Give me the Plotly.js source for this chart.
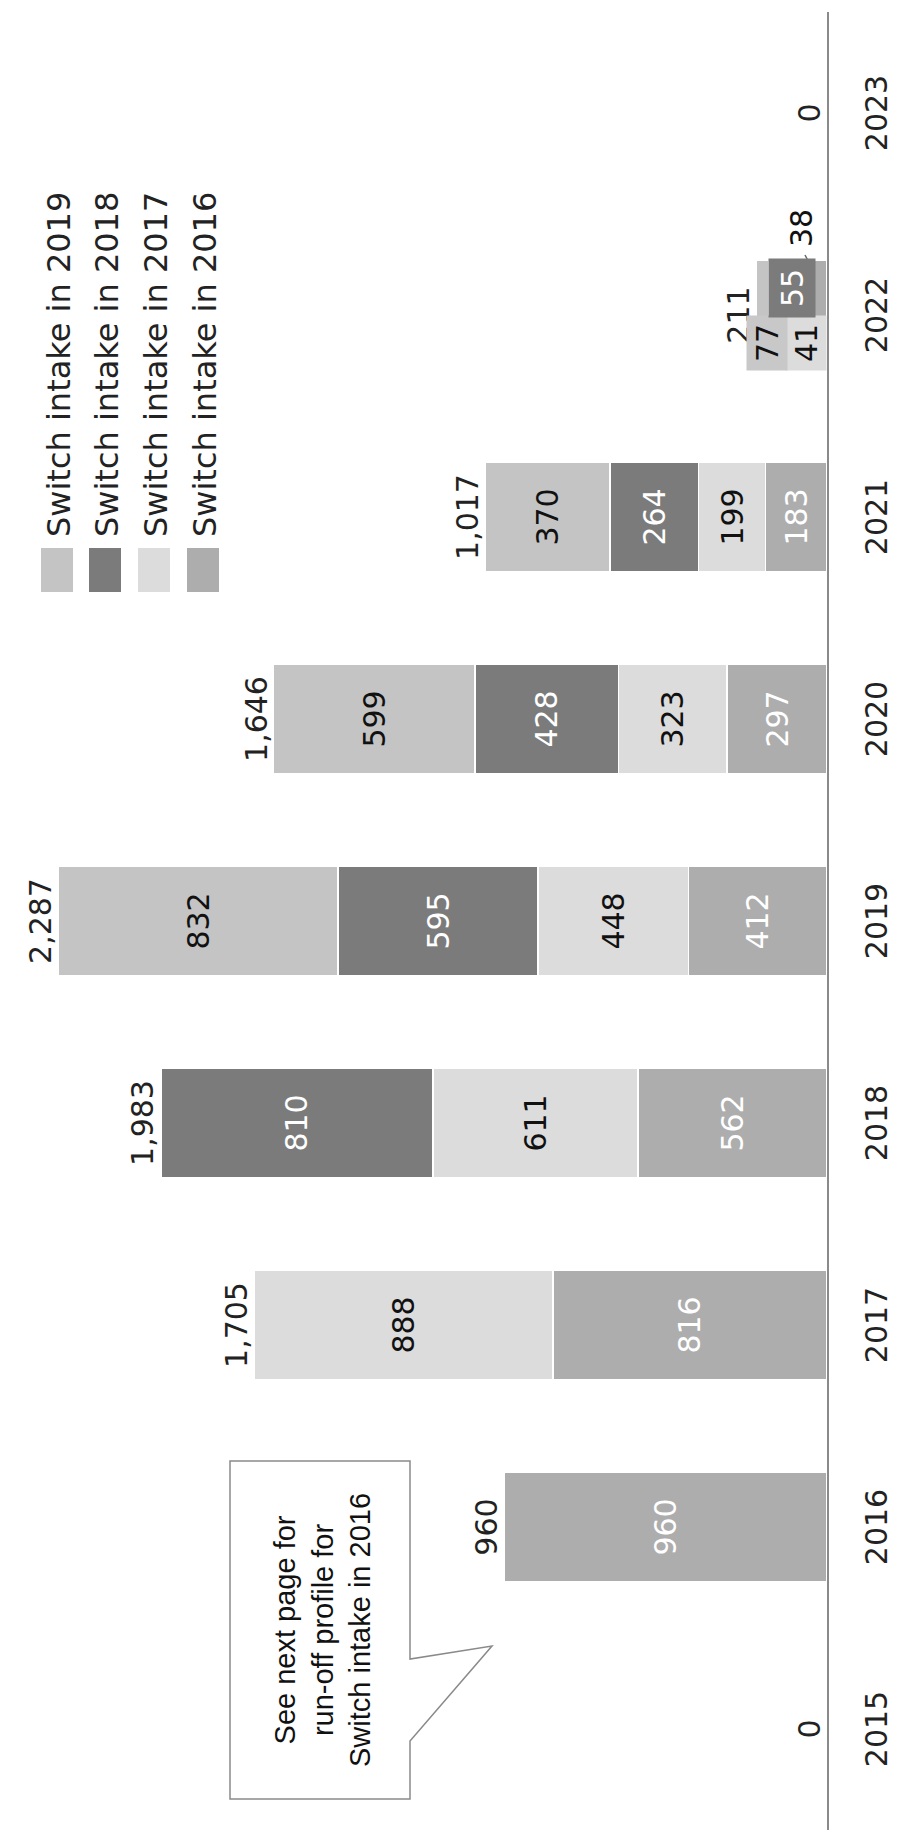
<!DOCTYPE html>
<html>
<head>
<meta charset="utf-8">
<script src="https://cdn.plot.ly/plotly-3.0.1.min.js"></script>
<style>
  html, body { margin: 0; padding: 0; background: #ffffff; overflow: hidden; }
  #wrap { width: 899px; height: 1843px; position: relative; overflow: hidden; }
  #chart { position: absolute; left: 0; top: 0; width: 1843px; height: 899px;
           transform-origin: 0 0; transform: translate(0px, 1843px) rotate(-90deg); }
</style>
</head>
<body>
<div id="wrap"><div id="chart"></div></div>
<script>
// ---- data ----
const years = ['2015', '2016', '2017', '2018', '2019', '2020', '2021', '2022', '2023'];
const intake2016 = [null, 960, 816, 562, 412, 297, 183, 41, null];
const intake2017 = [null, null, 888, 611, 448, 323, 199, 77, null];
const intake2018 = [null, null, null, 810, 595, 428, 264, 55, null];
const intake2019 = [null, null, null, null, 832, 599, 370, 38, null];
const totals = [0, 960, 1705, 1983, 2287, 1646, 1017, 211, 0];
const seriesNames = ['Switch intake in 2016', 'Switch intake in 2017', 'Switch intake in 2018', 'Switch intake in 2019'];
const calloutText = 'See next page for<br>run-off profile for<br>Switch intake in 2016';
const smallLabelYear = '2022'; // year whose labels are drawn as offset boxes

// ---- styles ----
const seriesValues = [intake2016, intake2017, intake2018, intake2019];
const colors = ['#adadad', '#dcdcdc', '#7b7b7b', '#c4c4c4'];
const labelColors = ['#ffffff', '#111111', '#ffffff', '#111111'];
const FONT = 'DejaVu Sans, Verdana, sans-serif';

// plot geometry (in the un-rotated frame)
const W = 1843, H = 899;
const M = { l: 13, r: 12, t: 10, b: 72 };
const plotW = W - M.l - M.r, plotH = H - M.t - M.b;
const yMax = 2432;
function px(u, v) { return { x: (u - M.l) / plotW, y: (H - M.b - v) / plotH }; }

const traces = seriesValues.map((vals, s) => ({
  type: 'bar',
  name: seriesNames[s],
  x: years,
  y: vals,
  text: vals.map((v, i) => (v == null || years[i] === smallLabelYear) ? '' : String(v)),
  textposition: 'inside',
  insidetextanchor: 'middle',
  constraintext: 'none',
  textangle: 0,
  textfont: { family: FONT, size: 30, color: labelColors[s] },
  marker: { color: colors[s], line: { color: '#ffffff', width: 1.5 } },
  hoverinfo: 'skip',
  showlegend: false
}));

traces.push({
  type: 'scatter',
  mode: 'text',
  x: years,
  y: totals,
  text: totals.map(t => t.toLocaleString('en-US')),
  textposition: 'top center',
  textfont: { family: FONT, size: 30, color: '#222222' },
  cliponaxis: false,
  hoverinfo: 'skip',
  showlegend: false
});

// ---- annotations & shapes ----
const annotations = [];
const shapes = [];

// legend (drawn manually: 2019 on top)
const legendRows = [57, 105, 154, 203];
[3, 2, 1, 0].forEach((s, k) => {
  const c = legendRows[k];
  const a = px(1251, c - 16), b = px(1295, c + 16);
  shapes.push({ type: 'rect', xref: 'paper', yref: 'paper', x0: a.x, x1: b.x, y0: a.y, y1: b.y,
                fillcolor: colors[s], line: { width: 0 } });
  const t = px(1304, c + 2);
  annotations.push({ xref: 'paper', yref: 'paper', x: t.x, y: t.y, xanchor: 'left', yanchor: 'middle',
                     text: seriesNames[s], showarrow: false,
                     font: { family: FONT, size: 32, color: '#222222' } });
});

// small labels for 2022 (category index used as x)
const idx = years.indexOf(smallLabelYear);
const smallShift = [[-28, 14], [-28, 33], [27, -14], [87, -38]];
const smallBg = ['#dcdcdc', '#c8c8c8', '#7b7b7b', 'rgba(0,0,0,0)'];
const smallFg = ['#111111', '#111111', '#ffffff', '#111111'];
let base = 0;
seriesValues.forEach((vals, s) => {
  const v = vals[idx];
  annotations.push({ x: idx, y: base + v / 2, xref: 'x', yref: 'y',
    xshift: smallShift[s][0], yshift: smallShift[s][1], showarrow: false,
    text: String(v), bgcolor: smallBg[s], width: s === 2 ? 56 : 52, height: s === 2 ? 44 : 38,
    font: { family: FONT, size: 30, color: smallFg[s] } });
  base += v;
});
{
  const a = px(1588, 805), b = px(1573, 813);
  shapes.push({ type: 'line', xref: 'paper', yref: 'paper', x0: a.x, y0: a.y, x1: b.x, y1: b.y,
                line: { color: '#666666', width: 1.5 } });
}

// callout box
{
  const pts = [[44, 230], [382, 230], [382, 410], [184, 410], [197, 492], [102, 410], [44, 410]];
  const path = pts.map((p, i) => { const q = px(p[0], p[1]); return (i ? 'L' : 'M') + q.x.toFixed(5) + ',' + q.y.toFixed(5); }).join(' ') + ' Z';
  shapes.push({ type: 'path', xref: 'paper', yref: 'paper', path: path,
                fillcolor: '#ffffff', line: { color: '#8a8a8a', width: 1.5 } });
  const c = px(213, 322);
  annotations.push({ xref: 'paper', yref: 'paper', x: c.x, y: c.y, xanchor: 'center', yanchor: 'middle',
                     text: calloutText, showarrow: false, align: 'center',
                     font: { family: 'Liberation Sans, Arial, sans-serif', size: 29, color: '#111111' } });
}

const layout = {
  width: W, height: H,
  margin: M,
  barmode: 'stack',
  bargap: 0.455,
  paper_bgcolor: '#ffffff',
  plot_bgcolor: '#ffffff',
  showlegend: false,
  xaxis: {
    type: 'category',
    categoryorder: 'array', categoryarray: years,
    range: [-0.5, years.length - 0.5], autorange: false,
    showline: true, linecolor: '#8a8a8a', linewidth: 2,
    ticks: '', showgrid: false, zeroline: false,
    ticklabelstandoff: 22,
    tickfont: { family: FONT, size: 30, color: '#222222' },
    fixedrange: true
  },
  yaxis: {
    range: [0, yMax], autorange: false, visible: false, showgrid: false, zeroline: false, fixedrange: true
  },
  annotations: annotations,
  shapes: shapes
};

Plotly.newPlot('chart', traces, layout, { staticPlot: true, displayModeBar: false });
</script>
</body>
</html>
